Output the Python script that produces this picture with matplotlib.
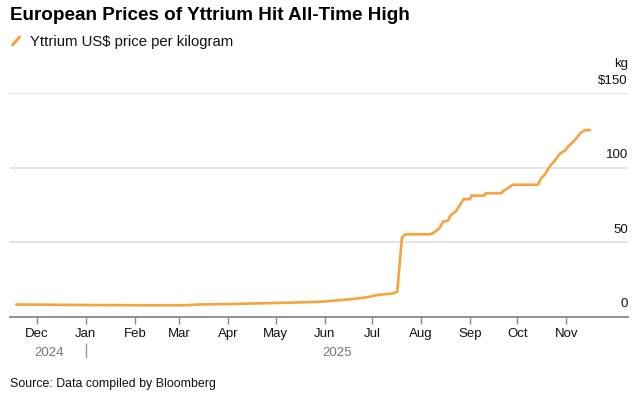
import matplotlib
matplotlib.use("Agg")
import matplotlib.pyplot as plt
import pandas as pd

plt.rcParams['font.family'] = ['Liberation Sans', 'DejaVu Sans']

dates = ["2024-11-18", "2024-12-15", "2025-01-10", "2025-02-10", "2025-03-05",
         "2025-03-14", "2025-04-02", "2025-05-01", "2025-05-23", "2025-06-01",
         "2025-06-11", "2025-06-20", "2025-06-27", "2025-07-04", "2025-07-14",
         "2025-07-17", "2025-07-20", "2025-07-22", "2025-08-07", "2025-08-10",
         "2025-08-13", "2025-08-15", "2025-08-18", "2025-08-20", "2025-08-23",
         "2025-08-25", "2025-08-28", "2025-09-01", "2025-09-02", "2025-09-10",
         "2025-09-11", "2025-09-21", "2025-09-22", "2025-09-25", "2025-09-28",
         "2025-10-14", "2025-10-16", "2025-10-18", "2025-10-22", "2025-10-24",
         "2025-10-28", "2025-10-31", "2025-11-03", "2025-11-06", "2025-11-08",
         "2025-11-10", "2025-11-13", "2025-11-16"]
prices = [8.2, 8.0, 7.8, 7.7, 7.7,
          8.2, 8.5, 9.2, 9.8, 10.2,
          11.1, 12.0, 12.9, 14.5, 15.6,
          16.7, 53.2, 55.3, 55.3, 57.1,
          59.8, 63.8, 64.5, 68.4, 70.6,
          73.9, 78.9, 78.9, 81.3, 81.3,
          82.9, 82.9, 84.5, 86.3, 88.6,
          88.6, 92.8, 95.0, 101.7, 103.9,
          109.6, 111.4, 115.2, 118.1, 120.8,
          123.5, 125.3, 125.3]

month_ticks = ["2024-12-01", "2025-01-01", "2025-02-01", "2025-03-01", "2025-04-01",
               "2025-05-01", "2025-06-01", "2025-07-01", "2025-08-01", "2025-09-01",
               "2025-10-01", "2025-11-01"]
month_labels = ["Dec", "Jan", "Feb", "Mar", "Apr", "May", "Jun", "Jul", "Aug",
                "Sep", "Oct", "Nov"]
y_ticks = [0, 50, 100, 150]
y_labels = ["0", "50", "100", "$150"]

title = "European Prices of Yttrium Hit All-Time High"
legend_label = "Yttrium US$ price per kilogram"
source = "Source: Data compiled by Bloomberg"

orange = "#F7A23B"

x = pd.to_datetime(dates)
xt = pd.to_datetime(month_ticks)

fig = plt.figure(figsize=(6.4, 3.95), dpi=100)
W, H = 640, 395
ax_left, ax_right = 10, 628
ax_top, ax_bottom = 93.3, 316.7
ax = fig.add_axes([ax_left / W, 1 - ax_bottom / H, (ax_right - ax_left) / W,
                   (ax_bottom - ax_top) / H])

ax.plot(x, prices, color=orange, lw=1.9, solid_joinstyle='round', solid_capstyle='round',
        zorder=3)

ax.set_xlim(pd.Timestamp("2024-11-14"), pd.Timestamp("2025-12-10"))
ax.set_ylim(0, 150)

for s in ["top", "right", "left"]:
    ax.spines[s].set_visible(False)
ax.spines["bottom"].set_color("#888888")
ax.spines["bottom"].set_linewidth(1.3)
ax.spines["bottom"].set_zorder(4)

ax.set_xticks(xt)
ax.set_xticklabels(month_labels, fontsize=9.5, color="#111111")
ax.tick_params(axis='x', length=5, width=1, color="#888888", pad=3)

ax.set_yticks([])
for v, lab in zip(y_ticks, y_labels):
    if v > 0:
        ax.axhline(v, color="#dddddd", lw=1.1, zorder=1)
    ax.text(1.0, v + 4.5, lab, transform=ax.get_yaxis_transform(), ha='right',
            va='bottom', fontsize=9.5, color="#111111")
ax.text(1.0, 150 + 15.5, "kg", transform=ax.get_yaxis_transform(), ha='right',
        va='bottom', fontsize=9.5, color="#111111")

# year labels
trans = ax.get_xaxis_transform()
y_year = -0.135
ax.text(pd.Timestamp("2024-12-09"), y_year, "2024", transform=trans, ha='center',
        va='top', fontsize=9.5, color="#777777", clip_on=False)
ax.text(pd.Timestamp("2025-06-09"), y_year, "2025", transform=trans, ha='center',
        va='top', fontsize=9.5, color="#777777", clip_on=False)
ax.plot([xt[1], xt[1]], [-0.122, -0.18], transform=trans, color="#999999", lw=1,
        clip_on=False)

fig.text(10 / W, 1 - 16 / H, title, fontsize=13.6, fontweight='bold', ha='left',
         va='center', color="#000000")
fig.lines.append(plt.Line2D([12.5 / W, 19.5 / W], [1 - 45 / H, 1 - 37 / H],
                            transform=fig.transFigure, color=orange, lw=2.2,
                            solid_capstyle='round'))
fig.text(30 / W, 1 - 42 / H, legend_label, fontsize=10.7, ha='left', va='center',
         color="#111111")
fig.text(10 / W, 1 - 384 / H, source, fontsize=8.9, ha='left', va='center',
         color="#111111")

fig.savefig("out.png", dpi=100, facecolor="white")
